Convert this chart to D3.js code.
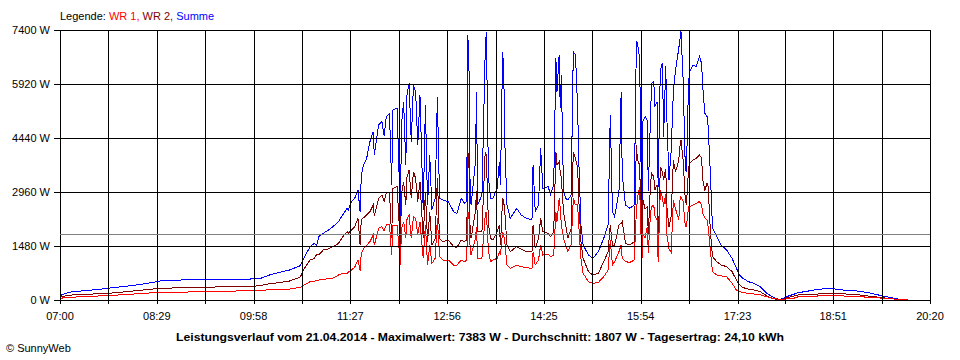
<!DOCTYPE html>
<html>
<head>
<meta charset="utf-8">
<script src="https://cdn.jsdelivr.net/npm/d3@7"></script>
<style>
body { margin: 0; background: #fff; }
svg { display: block; font-family: "Liberation Sans", Arial, sans-serif; font-size: 11px; }
</style>
</head>
<body>
<svg id="chart"></svg>
<script>
const margin = {top: 30, right: 30, bottom: 60, left: 60};
const width = 960 - margin.left - margin.right;
const height = 360 - margin.top - margin.bottom;

// values (W)
const times = [
    "07:00","07:05","07:12","07:23","07:35","07:44","07:55","08:05","08:15","08:25",
    "08:32","08:45","09:00","09:09","09:20","09:30","09:40","09:55","10:05","10:12",
    "10:22","10:31","10:41","10:45","10:50","10:54","10:56","10:58","11:02","11:07",
    "11:11","11:16","11:20","11:24","11:25","11:28","11:31","11:34","11:36","11:37",
    "11:39","11:42","11:45","11:48","11:49","11:53","11:56","11:58","12:00","12:03",
    "12:05","12:06","12:10","12:13","12:14","12:16","12:18","12:19","12:21","12:23",
    "12:25","12:27","12:29","12:31","12:34","12:36","12:38","12:40","12:42","12:45",
    "12:47","12:49","12:52","12:57","13:02","13:05","13:09","13:12","13:14","13:15",
    "13:16","13:17","13:18","13:22","13:23","13:24","13:28","13:31","13:32","13:34",
    "13:36","13:38","13:42","13:44","13:45","13:47","13:48","13:49","13:51","13:54",
    "14:00","14:04","14:09","14:14","14:15","14:17","14:20","14:22","14:24","14:29",
    "14:31","14:34","14:36","14:37","14:39","14:40","14:41","14:43","14:45","14:47",
    "14:50","14:52","14:54","14:56","14:57","14:59","15:01","15:06","15:10","15:15",
    "15:20","15:24","15:26","15:28","15:30","15:34","15:36","15:37","15:40","15:44",
    "15:48","15:50","15:51","15:53","15:55","15:56","15:58","16:00","16:01","16:03",
    "16:04","16:06","16:07","16:09","16:10","16:12","16:14","16:15","16:17","16:18",
    "16:20","16:22","16:24","16:26","16:29","16:30","16:31","16:33","16:35","16:36",
    "16:38","16:39","16:42","16:45","16:48","16:50","16:51","16:53","16:55","16:56",
    "16:58","17:00","17:04","17:08","17:13","17:18","17:22","17:25","17:28","17:33",
    "17:38","17:44","17:50","17:56","18:01","18:05","18:08","18:14","18:19","18:27",
    "18:37","18:48","19:00","19:13","19:23","19:34","19:43","19:51","20:00"
];

const summe = [
    120,180,230,255,290,320,360,390,430,480,
    520,540,560,548,560,570,565,575,600,680,
    760,822,940,1200,1460,1553,1500,1736,1827,1918,
    2010,2147,2329,2512,2466,2695,2786,3015,2420,3380,
    3700,3883,4339,4614,3970,4796,4888,4500,5025,5100,
    3152,5207,5253,2238,4800,5436,3700,5600,5938,4339,
    5893,5710,4248,5618,2466,5344,2604,3974,2480,2786,
    5573,2786,2740,2695,2420,2375,2786,2649,2700,7263,
    6600,3334,2604,3791,5710,2604,2878,6806,7350,3334,
    2786,2786,3060,3791,3152,6806,6349,4339,2604,2238,
    2512,2329,2238,2192,3700,2420,2604,4157,3060,3106,
    2878,3152,6623,5710,6715,5253,6166,2969,2786,2740,
    2878,6806,6715,5253,3883,2055,1507,1233,1142,1325,
    1690,2055,5070,2420,2284,2969,5710,3426,2604,2512,
    2604,7080,7035,6623,2100,4900,5025,4933,3000,5025,
    5938,5984,5300,5436,3100,6300,6500,4476,6400,5025,
    3289,4100,5700,6300,6900,7125,7383,6029,3600,3500,
    5984,6258,6441,6395,6669,6486,5847,5116,5025,4750,
    3500,1964,1735,1507,1370,1142,868,685,594,502,
    457,365,183,73,18,40,91,150,201,240,
    292,320,274,247,201,128,73,27,10
];

const wr2 = [
    80,110,140,155,170,180,210,240,270,300,
    320,330,345,350,355,360,360,365,400,440,
    480,520,630,880,1096,1142,1250,1233,1370,1400,
    1462,1550,1736,1873,1827,1918,2010,2238,1500,2200,
    2250,2330,2421,2604,2300,2786,2878,2700,2923,2950,
    1690,3060,3106,1507,2900,3243,2600,3350,3563,2786,
    3517,3334,2700,3243,1690,2969,1599,2421,1500,1690,
    3334,1690,1599,1644,1462,1440,1644,1599,1650,4065,
    3800,2055,1690,2421,3000,1873,1873,4065,3974,2055,
    1690,1644,1873,2055,1507,2786,2700,2421,1507,1325,
    1462,1400,1325,1325,2055,1416,1690,2238,1873,1827,
    1736,1873,4065,3700,3791,3517,3334,2421,2055,1690,
    1964,4065,3883,3608,2786,1599,1142,776,685,730,
    1051,1325,2055,1507,1507,2055,2100,2150,1553,1507,
    1599,4248,3837,3700,1370,2740,2500,2558,1800,3197,
    3471,3380,3015,3150,1370,3654,3500,3289,3600,2558,
    2000,2300,3837,3500,3837,4200,4385,3837,2740,2600,
    3600,3745,3837,3883,3974,3900,3289,3015,3197,3100,
    1918,1187,1050,960,913,776,548,411,340,300,
    274,228,110,36,10,20,60,100,137,150,
    164,183,170,146,110,73,37,18,5
];

const wr1 = [
    50,60,80,90,110,120,140,160,175,200,
    210,215,220,220,235,240,245,255,265,280,
    290,300,350,420,502,520,530,548,560,594,
    600,685,731,731,760,822,900,1096,800,1279,
    1400,1500,1598,1781,1500,1964,2010,1900,2055,2060,
    1230,2055,2055,960,1950,2147,1700,2200,2330,1690,
    2284,2238,1800,2147,1142,2055,959,1507,1000,1142,
    2238,1200,1096,1096,959,959,1096,1050,1100,2421,
    2300,1507,1233,1690,2000,1142,1142,2329,2421,1325,
    1051,1096,1142,1325,1233,1873,1781,1598,959,868,
    959,913,885,868,1325,959,1096,1507,1233,1250,
    1187,1233,2421,2150,2786,2512,2055,1690,1507,1325,
    1507,2786,2604,2604,2055,1142,731,502,457,480,
    640,822,1644,959,1051,1325,1507,1142,1051,1030,
    1096,2421,2786,3106,1000,1800,1700,2010,1300,2375,
    2558,2600,2300,2200,1050,3015,2800,2558,2900,1800,
    1400,1300,2740,2500,2192,2740,2832,2700,2010,2010,
    2558,2558,2600,2650,2700,2600,2375,2250,2192,2010,
    1370,776,685,660,640,457,274,228,200,183,
    164,140,91,40,18,10,30,40,91,100,
    110,119,110,101,73,55,37,18,5
];

// axis labels and summary
const xTickLabels = ["07:00", "08:29", "09:58", "11:27", "12:56", "14:25", "15:54", "17:23", "18:51", "20:20"];
const yTickValues = [0, 1480, 2960, 4440, 5920, 7400];
const seriesNames = ["WR 1", "WR 2", "Summe"];
const seriesColors = ["#ff0000", "#800000", "#0000ff"];
const average = 1807;
const maxValue = 7383;
const dayDate = "21.04.2014";
const dayYield = "24,10";

const parseTime = d3.timeParse("%H:%M");

const rows = times.map((t, i) => ({
    t: parseTime(t),
    wr1: wr1[i],
    wr2: wr2[i],
    summe: summe[i]
}));

// svg
const root = d3.select("#chart")
    .attr("width", 960)
    .attr("height", 360);

const svg = root.append("g")
    .attr("transform", `translate(${margin.left}, ${margin.top})`);

// scales
const xScale = d3.scaleTime()
    .domain([parseTime("07:00"), parseTime("20:20")])
    .range([0, width]);

const yScale = d3.scaleLinear()
    .domain([0, 7400])
    .range([height, 0]);

const px = v => Math.round(v) + 0.5;

// lines (drawn under the grid)
const keys = ["summe", "wr2", "wr1"];
const keyColor = {summe: seriesColors[2], wr2: seriesColors[1], wr1: seriesColors[0]};

keys.forEach(k => {
    const line = d3.line()
        .x(d => xScale(d.t))
        .y(d => yScale(d[k]));
    svg.append("path")
        .datum(rows)
        .attr("fill", "none")
        .attr("stroke", keyColor[k])
        .attr("stroke-width", 1)
        .attr("shape-rendering", "crispEdges")
        .attr("d", line);
});

// vertical grid, major + minor
const majorTimes = xTickLabels.map(parseTime);
const minorTimes = d3.pairs(majorTimes).map(([a, b]) => new Date((+a + +b) / 2));
const gridTimes = majorTimes.concat(minorTimes);

svg.append("g")
    .selectAll("line")
    .data(gridTimes)
    .enter()
    .append("line")
    .attr("x1", d => px(xScale(d)))
    .attr("x2", d => px(xScale(d)))
    .attr("y1", 0)
    .attr("y2", height + 4)
    .attr("stroke", "#000")
    .attr("shape-rendering", "crispEdges");

// average line
svg.append("line")
    .attr("x1", 0)
    .attr("x2", width)
    .attr("y1", px(yScale(average)))
    .attr("y2", px(yScale(average)))
    .attr("stroke", "#808080")
    .attr("shape-rendering", "crispEdges");

// horizontal grid
svg.append("g")
    .selectAll("line")
    .data(yTickValues)
    .enter()
    .append("line")
    .attr("x1", -6)
    .attr("x2", width)
    .attr("y1", d => px(yScale(d)))
    .attr("y2", d => px(yScale(d)))
    .attr("stroke", "#000")
    .attr("shape-rendering", "crispEdges");

// y labels
svg.append("g")
    .selectAll("text")
    .data(yTickValues)
    .enter()
    .append("text")
    .attr("x", -10)
    .attr("y", d => yScale(d) + 4)
    .attr("text-anchor", "end")
    .attr("fill", "#000")
    .text(d => `${d} W`);

// x labels
svg.append("g")
    .selectAll("text")
    .data(xTickLabels)
    .enter()
    .append("text")
    .attr("x", d => xScale(parseTime(d)))
    .attr("y", height + 20)
    .attr("text-anchor", "middle")
    .attr("fill", "#000")
    .text(d => d);

// legend
const legend = root.append("text")
    .attr("x", 60)
    .attr("y", 20);
legend.append("tspan").attr("fill", "#000").text("Legende: ");
seriesNames.forEach((name, i) => {
    legend.append("tspan")
        .attr("fill", seriesColors[i])
        .text(i < seriesNames.length - 1 ? name + ", " : name);
});

// title
root.append("text")
    .attr("x", 480)
    .attr("y", 341)
    .attr("text-anchor", "middle")
    .attr("font-weight", "bold")
    .attr("textLength", 608)
    .attr("lengthAdjust", "spacingAndGlyphs")
    .text(`Leistungsverlauf vom ${dayDate} - Maximalwert: ${maxValue} W - Durchschnitt: ${average} W - Tagesertrag: ${dayYield} kWh`);

root.append("text")
    .attr("x", 6)
    .attr("y", 352)
    .attr("fill", "#000")
    .text("© SunnyWeb");
</script>
</body>
</html>
